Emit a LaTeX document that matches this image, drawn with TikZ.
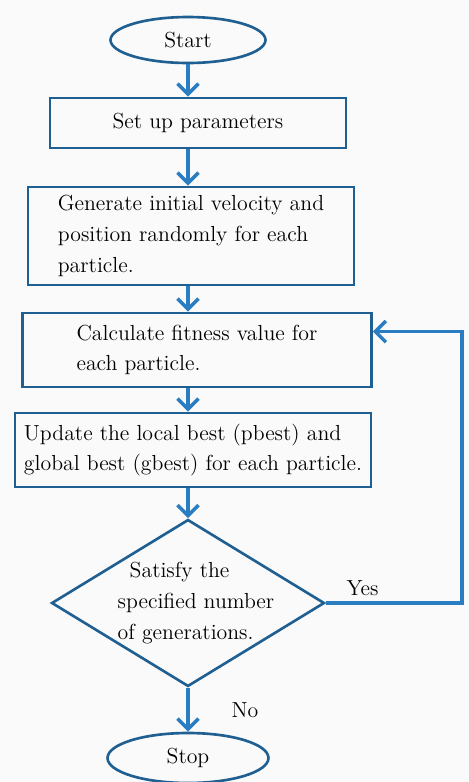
\documentclass[tikz,border=0pt]{standalone}
\usepackage{xcolor}
\usepackage{tikz}
\usetikzlibrary{shapes,arrows.meta,positioning}

\definecolor{boxline}{RGB}{31,95,145}
\definecolor{flowline}{RGB}{43,125,193}
\definecolor{pagebg}{RGB}{250,250,250}

\begin{document}
\begin{tikzpicture}[
    x=0.02cm, y=-0.02cm,
    font=\fontsize{12.4}{17.5}\selectfont,
    process/.style={rectangle, draw=boxline, line width=1.6pt, align=left, inner sep=0pt},
    terminal/.style={ellipse, draw=boxline, line width=1.5pt, inner sep=0pt},
    decision/.style={diamond, draw=boxline, line width=1.5pt, inner sep=0pt},
    flow/.style={draw=flowline, line width=2pt, -{Straight Barb[length=6pt,width=12pt]}}
]
\fill[pagebg] (0,0) rectangle (469,782);
\useasboundingbox (0,0) rectangle (469,782);

\node[terminal, minimum width=3.1cm, minimum height=0.92cm] (start) at (188,40) {Start};
\node[process, minimum width=5.92cm, minimum height=1cm] (setup) at (198,123) {Set up parameters};
\node[process, minimum width=6.52cm, minimum height=1.96cm] (init) at (191,236) {Generate initial velocity and\\position randomly for each\\particle.};
\node[process, minimum width=6.98cm, minimum height=1.48cm] (fitness) at (197,350) {Calculate fitness value for\\each particle.};
\node[process, minimum width=7.12cm, minimum height=1.48cm] (best) at (193,450) {Update the local best (pbest) and\\global best (gbest) for each particle.};
\node[decision, minimum width=5.46cm, minimum height=3.34cm,
      label={[align=left, xshift=0.16cm]center:{\hspace*{0.24cm}Satisfy the\\specified number\\of generations.}}] (check) at (188,603) {};
\node[terminal, minimum width=3.22cm, minimum height=1cm] (stop) at (188,758) {Stop};
\coordinate (loop) at (462,603);

\draw[flow] (start.south) -- (start.south |- setup.north);
\draw[flow] (start.south |- setup.south) -- (start.south |- init.north);
\draw[flow] (start.south |- init.south) -- (start.south |- fitness.north);
\draw[flow] (start.south |- fitness.south) -- (start.south |- best.north);
\draw[flow] (start.south |- best.south) -- (check.north);
\draw[flow] (check.south) -- node[right, xshift=0.72cm] {No} (stop.north);
\draw[flow] (check.east) -- node[above, pos=0.27] {Yes} (loop) |- ([yshift=-0.4cm]fitness.north east);

\end{tikzpicture}
\end{document}
